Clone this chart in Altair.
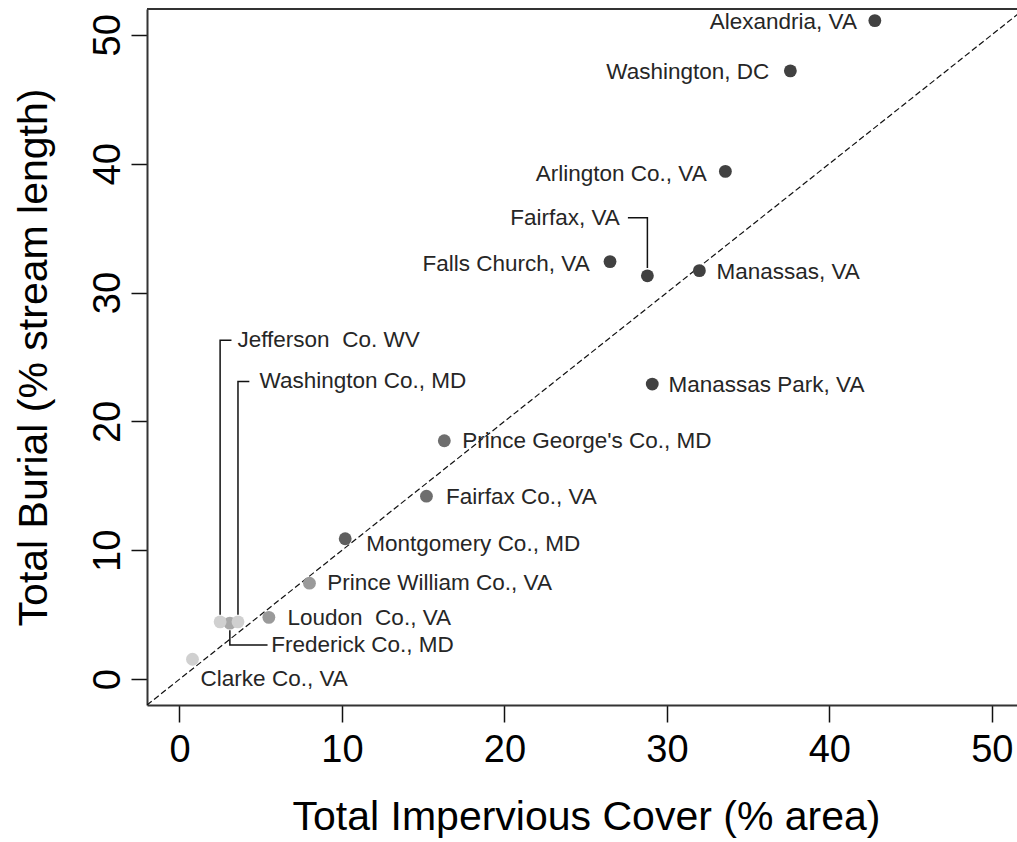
import altair as alt
import pandas as pd

# Jurisdictions: total impervious cover (% area) vs. total stream burial (% stream length)
places = [
    "Alexandria, VA", "Washington, DC", "Arlington Co., VA", "Fairfax, VA",
    "Falls Church, VA", "Manassas, VA", "Manassas Park, VA",
    "Prince George's Co., MD", "Fairfax Co., VA", "Montgomery Co., MD",
    "Prince William Co., VA", "Loudon\u00a0 Co., VA", "Frederick Co., MD",
    "Clarke Co., VA", "Jefferson\u00a0 Co. WV", "Washington Co., MD",
]
impervious = [42.8, 37.6, 33.6, 28.8, 26.5, 32.0, 29.1,
              16.3, 15.2, 10.2, 8.0, 5.5, 3.1, 0.8, 2.5, 3.6]
burial = [51.1, 47.2, 39.4, 31.3, 32.4, 31.7, 22.9,
          18.5, 14.2, 10.9, 7.45, 4.8, 4.35, 1.55, 4.45, 4.45]
shade = ["#414141", "#414141", "#414141", "#414141", "#414141", "#414141", "#414141",
         "#6e6e6e", "#6e6e6e", "#5f5f5f", "#9a9a9a", "#9a9a9a", "#a9a9a9",
         "#d0d0d0", "#d0d0d0", "#d0d0d0"]

# Label anchor for each point (data units) and which side the text sits on
label_x = [41.7, 36.3, 32.45, 27.1, 25.25, 33.05, 30.1,
           17.4, 16.4, 11.5, 9.1, 6.65, 5.65, 1.3, 3.57, 4.93]
label_y = [51.0, 47.1, 39.2, 35.8, 32.2, 31.6, 22.8,
           18.5, 14.1, 10.5, 7.45, 4.75, 2.65, 0.0, 26.3, 23.1]
label_side = ["right", "right", "right", "right", "right", "left", "left",
              "left", "left", "left", "left", "left", "left", "left", "left", "left"]

# Leader lines joining crowded points to their labels
leader_id = ["Fairfax, VA"] * 3 + ["Jefferson"] * 3 + ["Washington Co."] * 3 + ["Frederick"] * 3
leader_step = [0, 1, 2] * 4
leader_x = [27.6, 28.8, 28.8,
            2.5, 2.5, 3.2,
            3.6, 3.6, 4.3,
            3.1, 3.1, 5.42]
leader_y = [35.8, 35.8, 31.9,
            5.0, 26.3, 26.3,
            5.0, 23.1, 23.1,
            3.8, 2.65, 2.65]

x_ticks = [0, 10, 20, 30, 40, 50]
y_ticks = [0, 10, 20, 30, 40, 50]

pts = pd.DataFrame({
    "place": places, "impervious": impervious, "burial": burial, "shade": shade,
    "lx": label_x, "ly": label_y, "side": label_side,
})
leaders = pd.DataFrame({"id": leader_id, "step": leader_step, "x": leader_x, "y": leader_y})
one_to_one = pd.DataFrame({"v": [-2, 52]})

FONT = "Liberation Sans"
W, H = 870, 696

xs = alt.Scale(domain=[-2, 51.55], nice=False, zero=False)
ys = alt.Scale(domain=[-2, 52], nice=False, zero=False)

x_axis = alt.Axis(
    values=x_ticks, title="Total Impervious Cover (% area)", grid=False,
    domain=True, domainColor="#333333", domainWidth=2,
    tickSize=17, tickColor="#111111", tickWidth=1.5,
    labelFontSize=38, labelFont=FONT, labelColor="#000000", labelPadding=9,
    titleFontSize=41, titleFont=FONT, titleFontWeight="normal", titleColor="#000000",
    titlePadding=28, titleX=439,
)
y_axis = alt.Axis(
    values=y_ticks, title="Total Burial (% stream length)", grid=False,
    domain=True, domainColor="#333333", domainWidth=2,
    tickSize=16, tickColor="#111111", tickWidth=1.5,
    labelFontSize=38, labelFont=FONT, labelColor="#000000", labelAngle=270,
    labelAlign="center", labelBaseline="bottom", labelPadding=4,
    titleFontSize=41, titleFont=FONT, titleFontWeight="normal", titleColor="#000000",
    titlePadding=34,
)

diag = alt.Chart(one_to_one).mark_line(
    color="#111111", strokeDash=[6, 3], strokeWidth=1.2, clip=True
).encode(
    x=alt.X("v:Q", scale=xs, axis=x_axis),
    y=alt.Y("v:Q", scale=ys, axis=y_axis),
)

lead = alt.Chart(leaders).mark_line(color="#111111", strokeWidth=1.5).encode(
    x=alt.X("x:Q", scale=xs), y=alt.Y("y:Q", scale=ys),
    detail="id:N", order="step:Q",
)

dots = alt.Chart(pts).mark_circle(size=165, opacity=1).encode(
    x=alt.X("impervious:Q", scale=xs), y=alt.Y("burial:Q", scale=ys),
    color=alt.Color("shade:N", scale=None),
)

text_style = dict(font=FONT, fontSize=22.5, color="#262626", baseline="middle")
labels_r = alt.Chart(pts).transform_filter(alt.datum.side == "right").mark_text(
    align="right", **text_style
).encode(x=alt.X("lx:Q", scale=xs), y=alt.Y("ly:Q", scale=ys), text="place:N")
labels_l = alt.Chart(pts).transform_filter(alt.datum.side == "left").mark_text(
    align="left", **text_style
).encode(x=alt.X("lx:Q", scale=xs), y=alt.Y("ly:Q", scale=ys), text="place:N")

top_edge = alt.Chart(one_to_one).mark_rule(color="#333333", strokeWidth=2).encode(
    x=alt.value(0), x2=alt.value(W), y=alt.value(0)
)

chart = alt.layer(diag, lead, dots, labels_r, labels_l, top_edge).properties(
    width=W, height=H,
    autosize=alt.AutoSizeParams(type="none"),
    padding={"left": 147, "top": 9, "right": 0, "bottom": 137},
    background="white",
).configure_view(stroke=None)

chart.save("out.html", embed_options={"renderer": "svg", "actions": False})
